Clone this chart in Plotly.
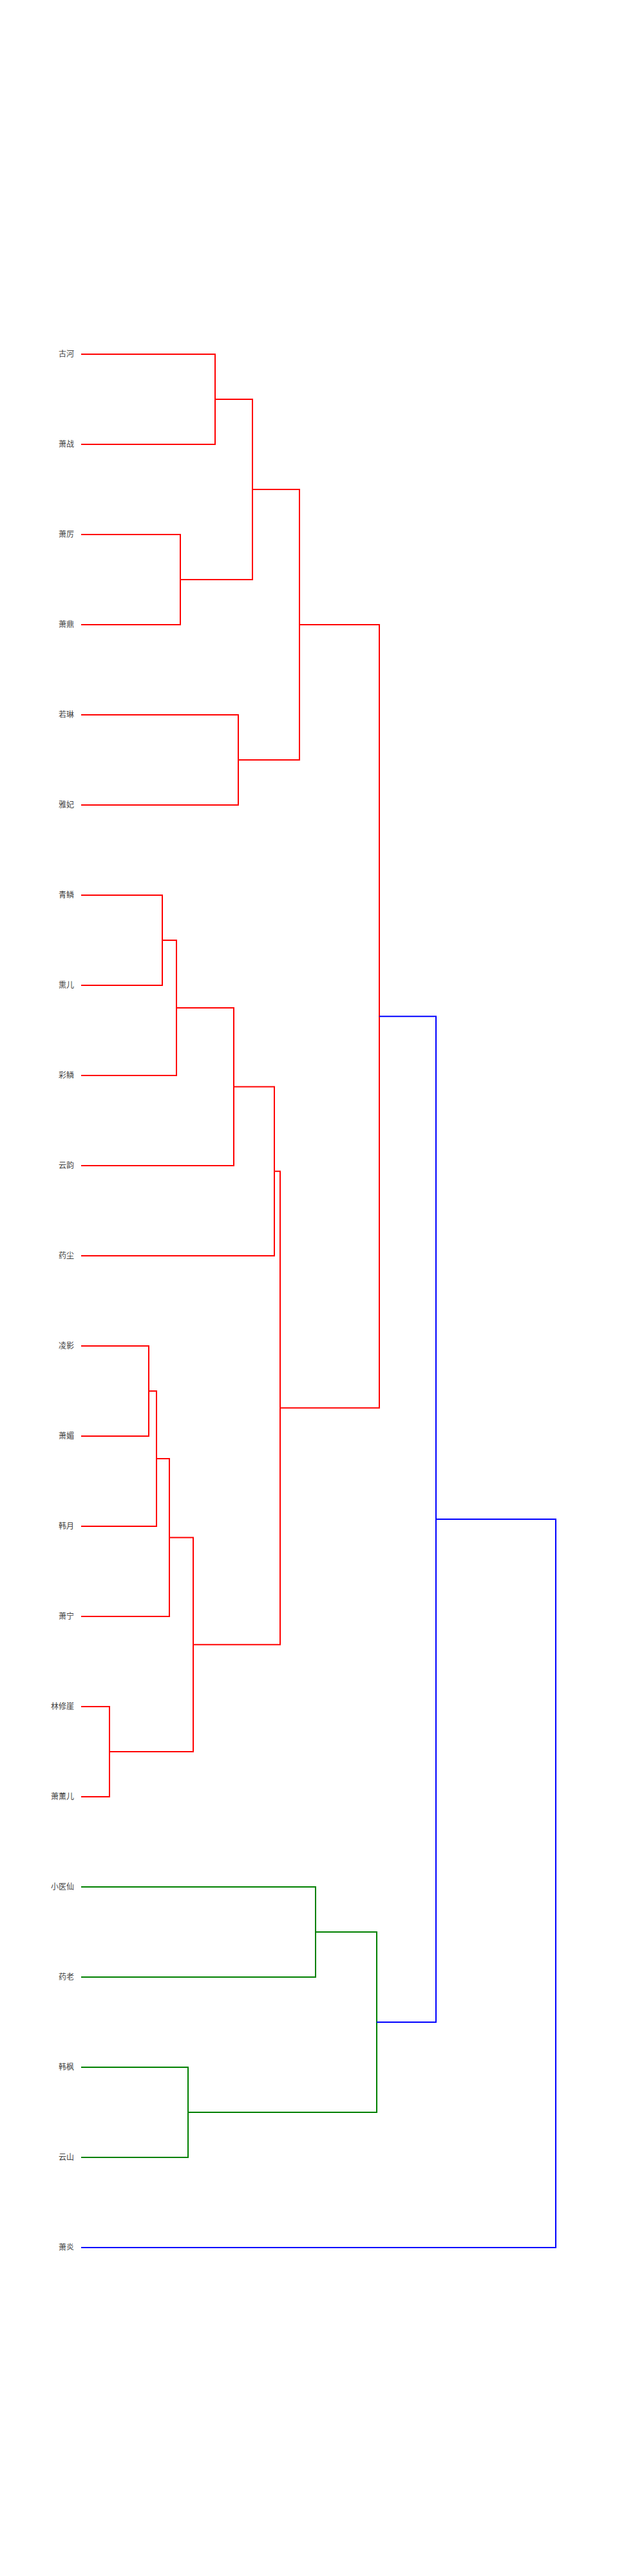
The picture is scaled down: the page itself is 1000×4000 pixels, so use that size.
import plotly.graph_objects as go

# Leaf labels, top to bottom
labels = ["古河", "萧战", "萧厉", "萧鼎", "若琳", "雅妃", "青鳞", "熏儿", "彩鳞", "云韵",
          "药尘", "凌影", "萧媚", "韩月", "萧宁", "林修崖", "萧薰儿", "小医仙", "药老",
          "韩枫", "云山", "萧炎"]

# Linkage: cluster n_leaves + k merges merge_left[k] and merge_right[k] at merge_height[k]
merge_left = [15, 11, 23, 6, 24, 25, 2, 19, 26, 0, 27, 4, 31, 32, 35, 34, 17, 38, 37, 40, 41]
merge_right = [16, 12, 13, 7, 14, 8, 3, 20, 22, 1, 9, 5, 28, 10, 30, 33, 18, 29, 36, 39, 21]
merge_height = [0.44, 1.05, 1.17, 1.26, 1.37, 1.48, 1.54, 1.66, 1.74, 2.08, 2.37, 2.44,
                2.66, 3.00, 3.09, 3.39, 3.64, 4.59, 4.63, 5.51, 7.37]
link_color = ["red", "red", "red", "red", "red", "red", "red", "green", "red", "red",
              "red", "red", "red", "red", "red", "red", "green", "green", "red",
              "blue", "blue"]

color_map = {"red": "rgb(255,0,0)", "green": "rgb(0,128,0)", "blue": "rgb(0,0,255)"}

n = len(labels)
pos_y = {i: float(i) for i in range(n)}
pos_x = {i: 0.0 for i in range(n)}

fig = go.Figure()
for k, (a, b, h, c) in enumerate(zip(merge_left, merge_right, merge_height, link_color)):
    ya, yb = pos_y[a], pos_y[b]
    xa, xb = pos_x[a], pos_x[b]
    fig.add_trace(go.Scatter(
        x=[xa, h, h, xb], y=[ya, ya, yb, yb], mode="lines",
        line=dict(color=color_map[c], width=2), hoverinfo="text",
        showlegend=False))
    pos_y[n + k] = (ya + yb) / 2
    pos_x[n + k] = h

fig.update_layout(
    width=1000, height=4000,
    margin=dict(l=112, r=88, t=472, b=448),
    plot_bgcolor="white", paper_bgcolor="white",
    font=dict(family="Noto Sans CJK SC, sans-serif", size=12, color="#444"),
    showlegend=False,
    xaxis=dict(range=[-0.06, 7.94], visible=False, showgrid=False, zeroline=False),
    yaxis=dict(range=[n - 1 + 0.5, -0.5], tickmode="array", tickvals=list(range(n)),
               ticktext=labels, showgrid=False, zeroline=False, showline=False,
               ticks="", ticklabelstandoff=4),
)

fig.write_html("out.html")
